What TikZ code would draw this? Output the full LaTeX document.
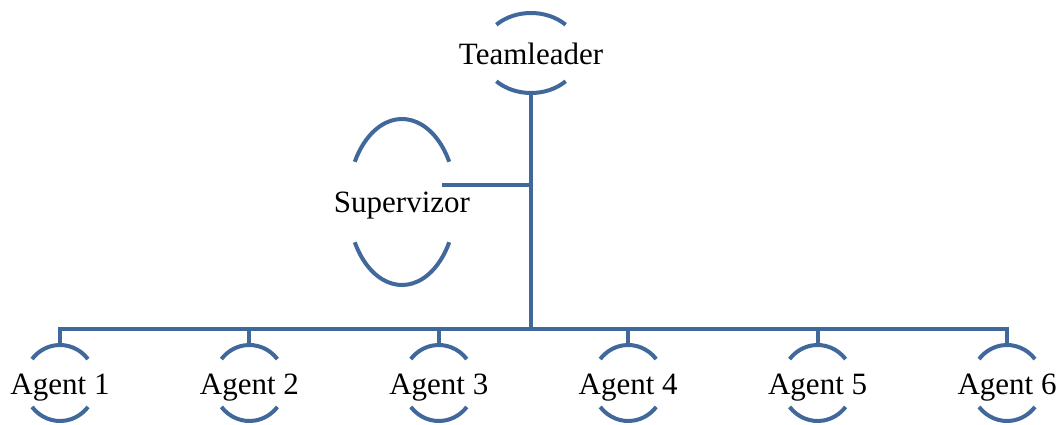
\documentclass[tikz,border=0pt]{standalone}
\usepackage{fontspec}
\setmainfont{Liberation Serif}
\definecolor{orgblue}{RGB}{65,104,154}
\begin{document}
\begin{tikzpicture}[x=1pt,y=-1pt,
  conn/.style={draw=orgblue,line width=4pt},
  arcline/.style={draw=orgblue,line width=4pt},
  lbl/.style={font=\fontsize{31}{31}\selectfont,inner sep=0pt,anchor=base}]
\useasboundingbox (0,0) rectangle (1059,425);
% Teamleader
\coordinate (tlc) at (531,53);
\coordinate (tlb) at (531,93);
\node[lbl] (tl) at (531,65) {Teamleader};
\draw[arcline] ([shift={(45:49pt and 40pt)}]tlc) arc[start angle=45,end angle=135,x radius=49pt,y radius=40pt];
\draw[arcline] ([shift={(225:49pt and 40pt)}]tlc) arc[start angle=225,end angle=315,x radius=49pt,y radius=40pt];
% Supervizor
\coordinate (svc) at (402,202);
\coordinate (svr) at (442,185);
\node[lbl] (sv) at (402,212) {Supervizor};
\draw[arcline] ([shift={(29:54pt and 83pt)}]svc) arc[start angle=29,end angle=151,x radius=54pt,y radius=83pt];
\draw[arcline] ([shift={(209:54pt and 83pt)}]svc) arc[start angle=209,end angle=331,x radius=54pt,y radius=83pt];
% junctions
\coordinate (jsv) at (531,185);
\coordinate (jbus) at (531,329);
\draw[conn] (tlb) -- (jbus);
\draw[conn] (svr) -- (jsv);
% Agents
\foreach \i in {1,...,6}{
  \pgfmathsetmacro{\ax}{60+189.4*(\i-1)}
  \coordinate (ac\i) at (\ax,383);
  \coordinate (at\i) at (\ax,346);
  \coordinate (ab\i) at (\ax,329);
  \node[lbl] (ag\i) at (\ax,394) {Agent \i};
  \draw[arcline] ([shift={(39:36pt and 38pt)}]ac\i) arc[start angle=39,end angle=141,x radius=36pt,y radius=38pt];
  \draw[arcline] ([shift={(219:36pt and 38pt)}]ac\i) arc[start angle=219,end angle=321,x radius=36pt,y radius=38pt];
  \draw[conn] (ab\i) -- (at\i);
}
\draw[conn,line cap=rect] (ab1) -- (ab6);
\end{tikzpicture}
\end{document}
